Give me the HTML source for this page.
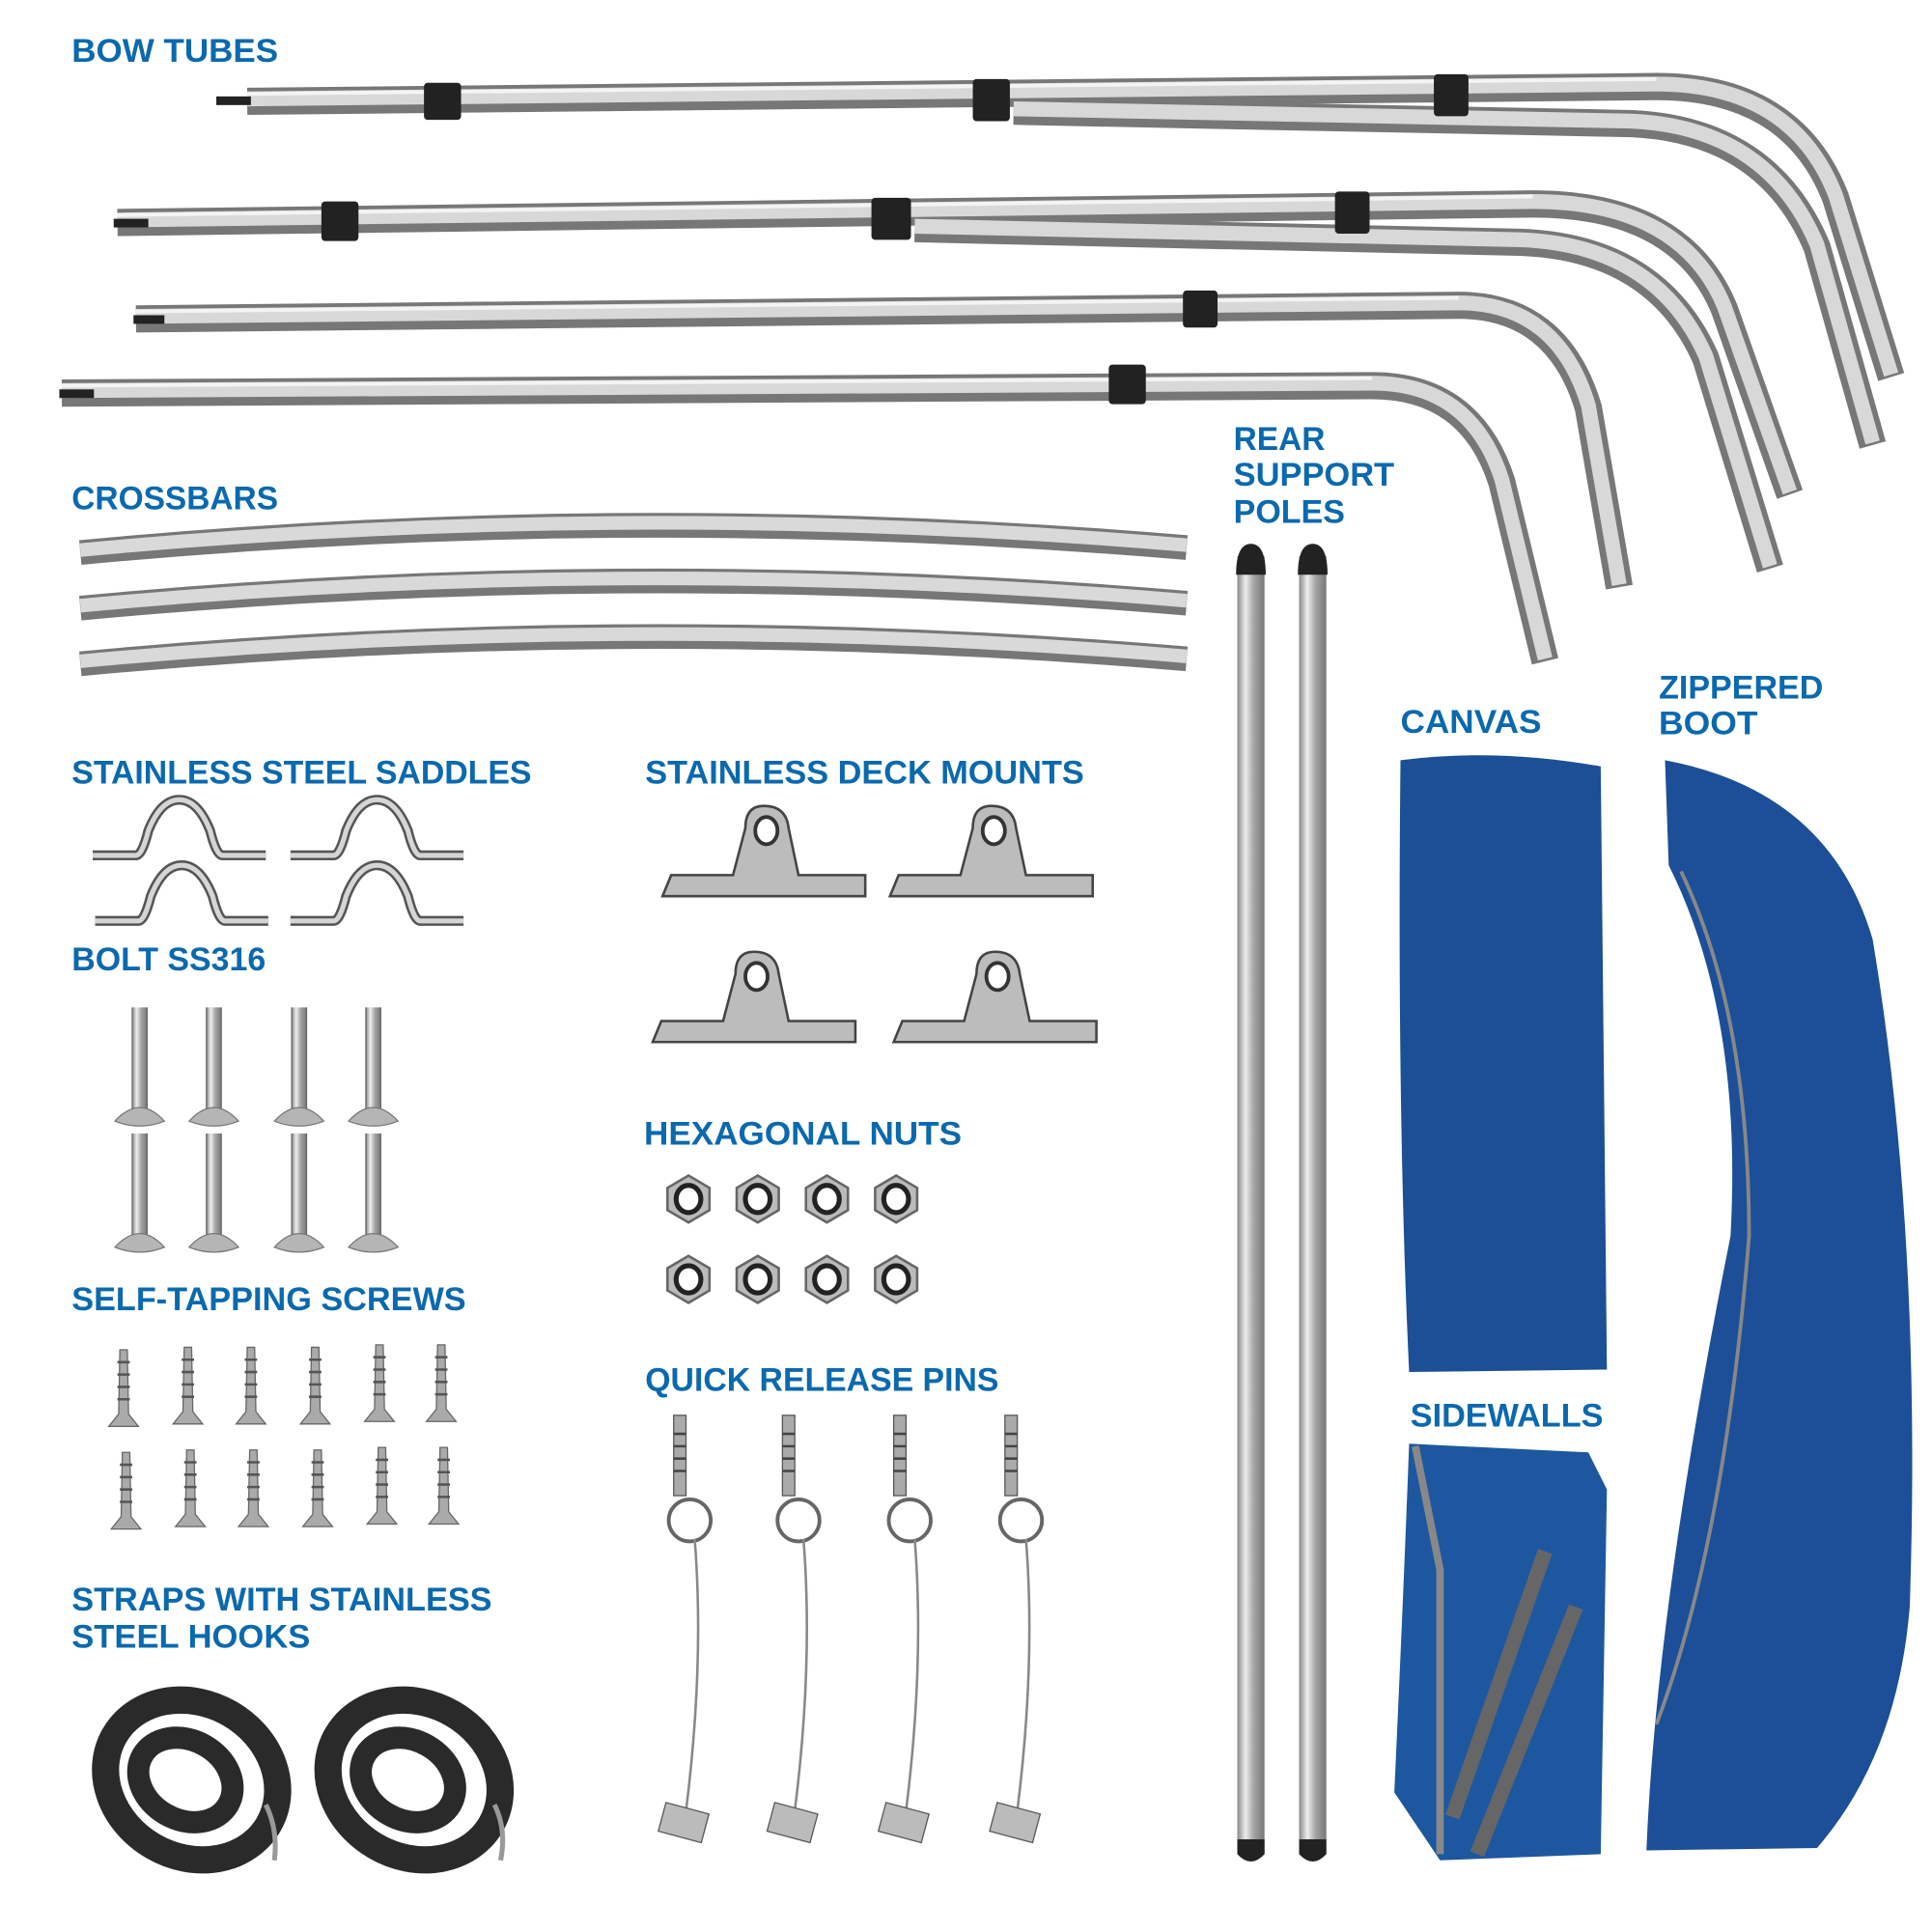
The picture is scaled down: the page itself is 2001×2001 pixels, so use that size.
<!DOCTYPE html>
<html><head><meta charset="utf-8"><style>
html,body{margin:0;padding:0;background:#fff}
svg{display:block}
text{font-family:"Liberation Sans",sans-serif;font-weight:bold;fill:#0b69ae;font-size:27px}
</style></head><body>
<svg width="2001" height="2001" viewBox="0 0 1563 1563" xmlns="http://www.w3.org/2000/svg">
<defs>
<linearGradient id="tg" x1="0" y1="0" x2="0" y2="1">
<stop offset="0" stop-color="#8a8a8a"/><stop offset=".3" stop-color="#e8e8e8"/><stop offset=".55" stop-color="#a0a0a0"/><stop offset=".8" stop-color="#d0d0d0"/><stop offset="1" stop-color="#777"/></linearGradient>
<linearGradient id="vg" x1="0" y1="0" x2="1" y2="0">
<stop offset="0" stop-color="#888"/><stop offset=".3" stop-color="#eee"/><stop offset=".6" stop-color="#a5a5a5"/><stop offset="1" stop-color="#777"/></linearGradient>
<g id="bolt"><rect x="-6" y="0" width="12" height="82" fill="url(#vg)"/><path d="M-6 0 V82 M6 0 V82" stroke="#666" stroke-width="1"/><path d="M-20 92 Q0 70 20 92 Q0 100 -20 92Z" fill="#b5b5b5" stroke="#777"/></g>
<g id="screw"><path d="M-3 0 L3 0 L4 52 L12 62 L-12 62 L-4 52Z" fill="#aaa" stroke="#666"/><path d="M-5 10h10M-5 20h10M-5 30h10M-5 40h10" stroke="#555" stroke-width="2"/></g>
<g id="nut"><polygon points="-17,-9 0,-19 17,-9 17,9 0,19 -17,9" fill="#bbb" stroke="#666" stroke-width="2"/><ellipse rx="10" ry="11" fill="#fff" stroke="#222" stroke-width="4"/></g>
<g id="saddle"><path d="M-70 0 H-35 Q-30 0 -25 -20 Q-15 -45 0 -45 Q15 -45 25 -20 Q30 0 35 0 H70" fill="none" stroke="#555" stroke-width="8"/><path d="M-70 0 H-35 Q-30 0 -25 -20 Q-15 -45 0 -45 Q15 -45 25 -20 Q30 0 35 0 H70" fill="none" stroke="#d5d5d5" stroke-width="4"/></g>
<g id="mount"><path d="M-82 35 L-75 18 H-25 L-15 -20 Q-15 -38 0 -38 Q18 -38 20 -20 L28 18 H82 V35Z" fill="#bcbcbc" stroke="#444" stroke-width="2"/><ellipse cx="2" cy="-18" rx="9" ry="11" fill="#fff" stroke="#333" stroke-width="3"/></g>
<g id="pin"><rect x="-5" y="0" width="10" height="65" fill="#aaa" stroke="#555"/><path d="M-5 15h10M-5 25h10M-5 35h10M-5 45h10" stroke="#444" stroke-width="2"/><circle cx="8" cy="85" r="17" fill="none" stroke="#666" stroke-width="3"/><path d="M12 100 Q20 200 5 320" fill="none" stroke="#888" stroke-width="2"/><rect x="-15" y="318" width="36" height="24" fill="#bbb" stroke="#555" transform="rotate(15 5 330)"/></g>
</defs>
<rect width="1563" height="1563" fill="#fff"/>

<!-- bow tubes -->
<g fill="none" stroke-linecap="butt">
<g stroke="#777" stroke-width="22">
<path d="M820 90 L1320 100 Q1430 105 1470 200 L1515 360"/>
<path d="M740 185 L1230 196 Q1340 200 1380 290 L1432 460"/>
<path d="M200 82 L1340 70 Q1450 70 1485 160 L1530 305"/>
<path d="M95 180 L1240 165 Q1360 165 1395 250 L1448 400"/>
<path d="M110 258 L1180 247 Q1260 247 1285 330 L1310 475"/>
<path d="M50 318 L1110 312 Q1190 312 1215 390 L1250 535"/>
</g>
<g stroke="#d8d8d8" stroke-width="12">
<path d="M820 88 L1320 98 Q1430 103 1470 198 L1515 358"/>
<path d="M740 183 L1230 194 Q1340 198 1380 288 L1432 458"/>
<path d="M200 80 L1340 68 Q1450 68 1485 158 L1530 303"/>
<path d="M95 178 L1240 163 Q1360 163 1395 248 L1448 398"/>
<path d="M110 256 L1180 245 Q1260 245 1285 328 L1310 473"/>
<path d="M50 316 L1110 310 Q1190 310 1215 388 L1250 533"/>
</g>
<g stroke="#f4f4f4" stroke-width="3">
<path d="M200 76 L1340 64"/><path d="M95 174 L1240 159"/><path d="M110 252 L1180 241"/><path d="M50 312 L1110 306"/>
</g>
</g>
<g fill="#222">
<rect x="175" y="78" width="28" height="7"/><rect x="92" y="177" width="28" height="7"/><rect x="108" y="255" width="25" height="7"/><rect x="48" y="315" width="28" height="7"/>
<rect x="343" y="67" width="30" height="30" rx="3"/><rect x="787" y="64" width="30" height="34" rx="3"/><rect x="1160" y="60" width="28" height="34" rx="3"/>
<rect x="260" y="163" width="30" height="32" rx="3"/><rect x="705" y="160" width="32" height="34" rx="3"/><rect x="1080" y="155" width="28" height="34" rx="3"/>
<rect x="957" y="235" width="28" height="30" rx="3"/><rect x="897" y="295" width="30" height="32" rx="3"/>
</g>

<!-- crossbars -->
<g fill="none">
<g stroke="#777" stroke-width="20"><path d="M65 447 Q510 405 960 443"/><path d="M65 492 Q510 450 960 488"/><path d="M65 537 Q510 495 960 533"/></g>
<g stroke="#d9d9d9" stroke-width="11"><path d="M65 445 Q510 403 960 441"/><path d="M65 490 Q510 448 960 486"/><path d="M65 535 Q510 493 960 531"/></g>
</g>

<!-- rear poles -->
<rect x="1001" y="450" width="22" height="1050" fill="url(#vg)"/>
<rect x="1051" y="450" width="22" height="1050" fill="url(#vg)"/>
<path d="M1000 465 Q1000 440 1012 440 Q1024 440 1024 465Z M1050 465 Q1050 440 1062 440 Q1074 440 1074 465Z" fill="#222"/>
<path d="M1001 1488 H1023 V1500 Q1012 1512 1001 1500Z M1051 1488 H1073 V1500 Q1062 1512 1051 1500Z" fill="#222"/>

<!-- canvas -->
<path d="M1133 615 Q1210 605 1295 620 L1300 1108 L1140 1110 Q1130 900 1133 615Z" fill="#1b4f96"/>
<!-- sidewalls -->
<path d="M1140 1168 L1285 1175 L1300 1205 L1295 1500 L1165 1505 L1128 1450 Q1135 1300 1140 1168Z" fill="#1d57a0"/>
<path d="M1145 1170 L1165 1270 L1165 1500" fill="none" stroke="#888" stroke-width="6"/>
<path d="M1250 1255 L1175 1470 M1275 1300 L1195 1500" stroke="#666" stroke-width="12"/>
<!-- boot -->
<path d="M1347 615 Q1480 640 1515 760 Q1555 1000 1545 1300 Q1535 1420 1470 1495 L1332 1497 Q1340 1300 1400 1000 Q1410 820 1350 700Z" fill="#1c4f97"/>
<path d="M1360 705 Q1415 820 1415 1000 Q1395 1250 1340 1395" fill="none" stroke="#888" stroke-width="3"/>

<!-- saddles -->
<use href="#saddle" x="145" y="692"/><use href="#saddle" x="305" y="692"/>
<use href="#saddle" x="147" y="745"/><use href="#saddle" x="305" y="745"/>
<!-- deck mounts -->
<use href="#mount" x="618" y="690"/><use href="#mount" x="802" y="690"/>
<use href="#mount" x="610" y="808"/><use href="#mount" x="805" y="808"/>
<!-- bolts -->
<use href="#bolt" x="113" y="815"/><use href="#bolt" x="173" y="815"/><use href="#bolt" x="242" y="815"/><use href="#bolt" x="302" y="815"/>
<use href="#bolt" x="113" y="917"/><use href="#bolt" x="173" y="917"/><use href="#bolt" x="242" y="917"/><use href="#bolt" x="302" y="917"/>
<!-- screws -->
<use href="#screw" x="100" y="1092"/><use href="#screw" x="152" y="1090"/><use href="#screw" x="203" y="1090"/><use href="#screw" x="255" y="1090"/><use href="#screw" x="307" y="1088"/><use href="#screw" x="357" y="1088"/>
<use href="#screw" x="102" y="1175"/><use href="#screw" x="154" y="1173"/><use href="#screw" x="205" y="1173"/><use href="#screw" x="257" y="1173"/><use href="#screw" x="309" y="1171"/><use href="#screw" x="359" y="1171"/>
<!-- nuts -->
<use href="#nut" x="557" y="970"/><use href="#nut" x="613" y="970"/><use href="#nut" x="669" y="970"/><use href="#nut" x="725" y="970"/>
<use href="#nut" x="557" y="1035"/><use href="#nut" x="613" y="1035"/><use href="#nut" x="669" y="1035"/><use href="#nut" x="725" y="1035"/>
<!-- pins -->
<use href="#pin" x="550" y="1145"/><use href="#pin" x="638" y="1145"/><use href="#pin" x="728" y="1145"/><use href="#pin" x="818" y="1145"/>
<!-- straps -->
<g fill="none" stroke="#2a2a2a">
<ellipse cx="155" cy="1440" rx="72" ry="62" stroke-width="22" transform="rotate(30 155 1440)"/>
<ellipse cx="150" cy="1440" rx="40" ry="32" stroke-width="18" transform="rotate(30 150 1440)"/>
<ellipse cx="335" cy="1440" rx="72" ry="62" stroke-width="22" transform="rotate(30 335 1440)"/>
<ellipse cx="330" cy="1440" rx="40" ry="32" stroke-width="18" transform="rotate(30 330 1440)"/>
<path d="M215 1460 Q225 1480 222 1505 M400 1460 Q410 1480 405 1505" stroke="#999" stroke-width="4"/>
</g>

<!-- labels -->
<text x="58" y="50" textLength="167" lengthAdjust="spacingAndGlyphs">BOW TUBES</text>
<text x="58" y="412" textLength="167" lengthAdjust="spacingAndGlyphs">CROSSBARS</text>
<text x="998" y="364" textLength="74" lengthAdjust="spacingAndGlyphs">REAR</text>
<text x="998" y="393" textLength="130" lengthAdjust="spacingAndGlyphs">SUPPORT</text>
<text x="998" y="423" textLength="90" lengthAdjust="spacingAndGlyphs">POLES</text>
<text x="1133" y="593" textLength="114" lengthAdjust="spacingAndGlyphs">CANVAS</text>
<text x="1342" y="565" textLength="133" lengthAdjust="spacingAndGlyphs">ZIPPERED</text>
<text x="1342" y="594" textLength="80" lengthAdjust="spacingAndGlyphs">BOOT</text>
<text x="58" y="634" textLength="372" lengthAdjust="spacingAndGlyphs">STAINLESS STEEL SADDLES</text>
<text x="522" y="634" textLength="355" lengthAdjust="spacingAndGlyphs">STAINLESS DECK MOUNTS</text>
<text x="58" y="785" textLength="157" lengthAdjust="spacingAndGlyphs">BOLT SS316</text>
<text x="521" y="926" textLength="257" lengthAdjust="spacingAndGlyphs">HEXAGONAL NUTS</text>
<text x="58" y="1060" textLength="319" lengthAdjust="spacingAndGlyphs">SELF-TAPPING SCREWS</text>
<text x="522" y="1125" textLength="286" lengthAdjust="spacingAndGlyphs">QUICK RELEASE PINS</text>
<text x="1141" y="1154" textLength="156" lengthAdjust="spacingAndGlyphs">SIDEWALLS</text>
<text x="58" y="1303" textLength="340" lengthAdjust="spacingAndGlyphs">STRAPS WITH STAINLESS</text>
<text x="58" y="1333" textLength="193" lengthAdjust="spacingAndGlyphs">STEEL HOOKS</text>
</svg>
</body></html>
